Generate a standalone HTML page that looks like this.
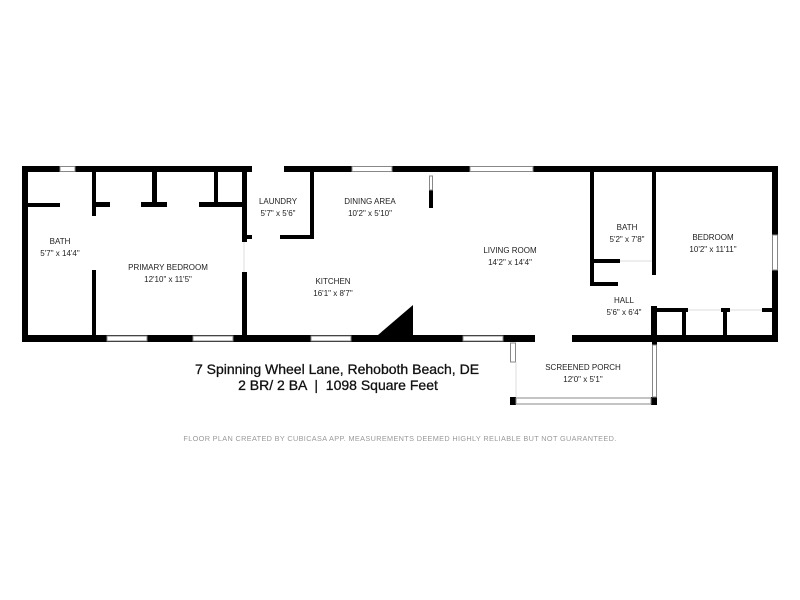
<!DOCTYPE html>
<html><head><meta charset="utf-8"><style>
html,body{margin:0;padding:0;background:#fff;width:800px;height:600px;overflow:hidden}
svg{display:block}
text{font-family:"Liberation Sans",Arial,sans-serif;fill:#222}
</style></head><body>
<svg width="800" height="600" viewBox="0 0 800 600" xmlns="http://www.w3.org/2000/svg">
<g fill="#000">
<rect x="22" y="166" width="230" height="6"/>
<rect x="284" y="166" width="494" height="6"/>
<rect x="22" y="166" width="6" height="176"/>
<rect x="772" y="166" width="6" height="176"/>
<rect x="22" y="335" width="513" height="7"/>
<rect x="572" y="335" width="206" height="7"/>
<rect x="28" y="203" width="32" height="4"/>
<rect x="92" y="172" width="4" height="44"/>
<rect x="92" y="270" width="4" height="66"/>
<rect x="96" y="202" width="14" height="5"/>
<rect x="141" y="202" width="26" height="5"/>
<rect x="199" y="202" width="44" height="5"/>
<rect x="152" y="172" width="5" height="32"/>
<rect x="214" y="172" width="4" height="32"/>
<rect x="242" y="172" width="5" height="70"/>
<rect x="242" y="272" width="5" height="64"/>
<rect x="310" y="172" width="4" height="67"/>
<rect x="280" y="235" width="34" height="4"/>
<rect x="247" y="235" width="5" height="4"/>
<rect x="429" y="190" width="4" height="18"/>
<polygon points="378,335 413,305 413,335"/>
<rect x="590" y="172" width="4" height="113"/>
<rect x="590" y="259" width="30" height="4"/>
<rect x="590" y="282" width="28" height="4"/>
<rect x="652" y="172" width="4" height="103"/>
<rect x="651" y="306" width="6" height="30"/>
<rect x="652" y="308" width="36" height="4"/>
<rect x="721" y="308" width="9" height="4"/>
<rect x="762" y="308" width="12" height="4"/>
<rect x="682" y="308" width="4" height="28"/>
<rect x="723" y="308" width="4" height="28"/>
<rect x="652" y="342" width="5" height="63"/>
<rect x="510" y="397" width="6" height="8"/>
<rect x="651" y="397" width="6" height="8"/>
</g>
<g fill="#fff" stroke="#888" stroke-width="1">
<rect x="60" y="166.5" width="15" height="5"/>
<rect x="352" y="166.5" width="40" height="5"/>
<rect x="470" y="166.5" width="63" height="5"/>
<rect x="107" y="336" width="40" height="5"/>
<rect x="193" y="336" width="40" height="5"/>
<rect x="311" y="336" width="40" height="5"/>
<rect x="463" y="336" width="40" height="5"/>
<rect x="772.5" y="235" width="5" height="35"/>
<rect x="429.5" y="176" width="3" height="14"/>
<rect x="510.5" y="343" width="5" height="19"/>
<rect x="652.5" y="345" width="4" height="52"/>
<rect x="516" y="398" width="135" height="6"/>
</g>
<g stroke="#ddd" stroke-width="1">
<line x1="516" y1="362" x2="516" y2="397"/>
<line x1="620" y1="261" x2="652" y2="261"/>
<line x1="688" y1="310" x2="721" y2="310"/>
<line x1="730" y1="310" x2="762" y2="310"/>
<line x1="244" y1="242" x2="244" y2="272"/>
</g>
<g font-size="8" text-anchor="middle">
<text x="60" y="244">BATH</text><text x="60" y="256">5'7" x 14'4"</text>
<text x="168" y="270">PRIMARY BEDROOM</text><text x="168" y="282">12'10" x 11'5"</text>
<text x="278" y="204">LAUNDRY</text><text x="278" y="216">5'7" x 5'6"</text>
<text x="370" y="204">DINING AREA</text><text x="370" y="216">10'2" x 5'10"</text>
<text x="333" y="284">KITCHEN</text><text x="333" y="296">16'1" x 8'7"</text>
<text x="510" y="253">LIVING ROOM</text><text x="510" y="265">14'2" x 14'4"</text>
<text x="627" y="230">BATH</text><text x="627" y="242">5'2" x 7'8"</text>
<text x="713" y="240">BEDROOM</text><text x="713" y="252">10'2" x 11'11"</text>
<text x="624" y="303">HALL</text><text x="624" y="315">5'6" x 6'4"</text>
<text x="583" y="370">SCREENED PORCH</text><text x="583" y="382">12'0" x 5'1"</text>
</g>
<text x="337" y="374" font-size="14" text-anchor="middle" style="fill:#111;stroke:#111;stroke-width:0.3">7 Spinning Wheel Lane, Rehoboth Beach, DE</text>
<text x="338" y="390" font-size="14" text-anchor="middle" xml:space="preserve" style="fill:#111;stroke:#111;stroke-width:0.3;white-space:pre">2 BR/ 2 BA  |  1098 Square Feet</text>
<text x="400" y="441" font-size="7.3" text-anchor="middle" letter-spacing="0.35" style="fill:#999">FLOOR PLAN CREATED BY CUBICASA APP. MEASUREMENTS DEEMED HIGHLY RELIABLE BUT NOT GUARANTEED.</text>
</svg>
</body></html>
